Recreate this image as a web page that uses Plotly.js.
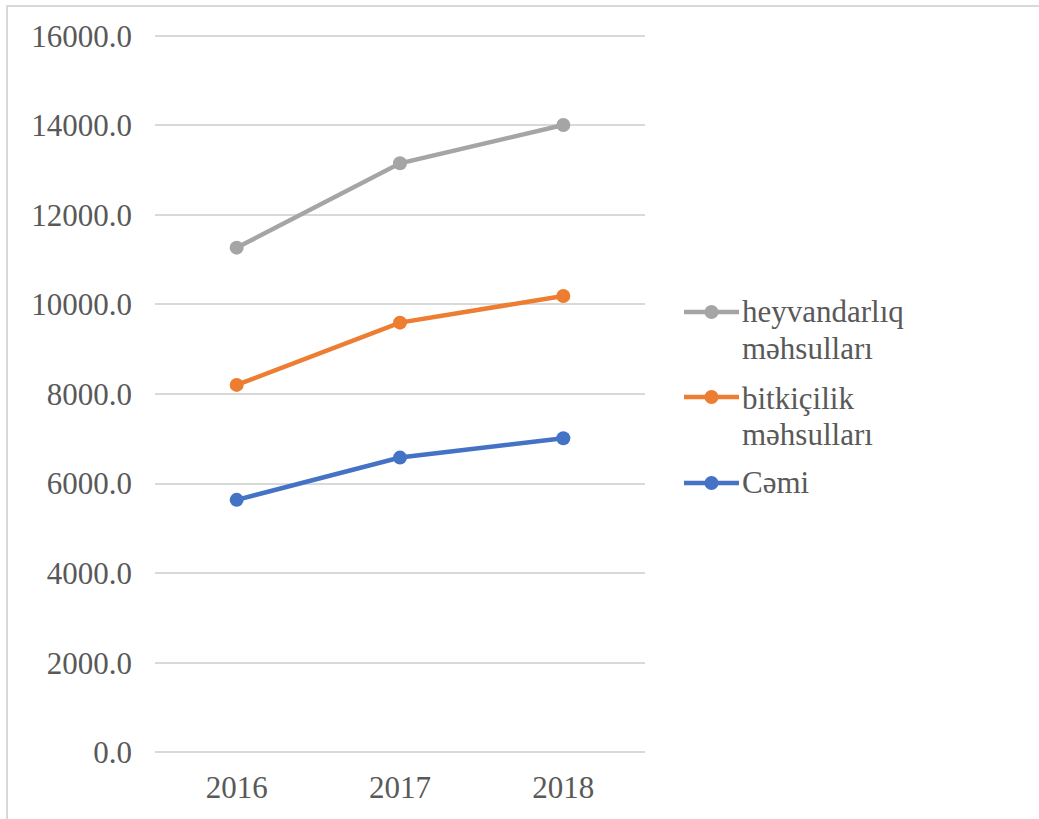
<!DOCTYPE html>
<html>
<head>
<meta charset="utf-8">
<script src="https://cdn.plot.ly/plotly-3.0.1.min.js"></script>
<style>
  html, body { margin: 0; padding: 0; background: #ffffff; }
  #wrap { position: relative; width: 1039px; height: 819px; overflow: hidden; }
  #chart { width: 1039px; height: 819px; }
  #frame { position: absolute; left: 6px; top: 5px; width: 1100px; height: 900px;
           border-left: 2px solid #D9D9D9; border-top: 2px solid #D9D9D9; pointer-events: none; }
</style>
</head>
<body>
<div id="wrap">
  <div id="chart"></div>
  <div id="frame"></div>
</div>
<script>
// ---- data ----
const years = ['2016', '2017', '2018'];
const heyvandarliq = [11268, 13152, 14007];
const bitkicilik = [8203, 9594, 10190];
const cemi = [5636, 6580, 7013];
const seriesNames = ['heyvandarlıq məhsulları', 'bitkiçilik məhsulları', 'Cəmi'];
const legendLines = [['heyvandarlıq', 'məhsulları'], ['bitkiçilik', 'məhsulları'], ['Cəmi']];
const yTicks = [0, 2000, 4000, 6000, 8000, 10000, 12000, 14000, 16000];
const colors = ['#A5A5A5', '#ED7D31', '#4472C4'];

// ---- layout geometry ----
const W = 1039, H = 819;
// small padding beyond 0..16000 so the edge gridlines are drawn
const M = { l: 155, r: 394, t: 34.2, b: 64.7 };
const PW = W - M.l - M.r, PH = H - M.t - M.b;
const px2x = px => (px - M.l) / PW;
const py2y = py => 1 - (py - M.t) / PH;

const FAMILY = 'Liberation Serif, Times New Roman, serif';
const mkFont = () => ({ family: FAMILY, size: 31, color: '#595959' });

const allSeries = [heyvandarliq, bitkicilik, cemi];
const traces = [2, 1, 0].map(i => ({
  type: 'scatter', mode: 'lines+markers',
  x: years, y: allSeries[i], name: seriesNames[i],
  line: { color: colors[i], width: 4.5 },
  marker: { color: colors[i], size: 14 },
  showlegend: false, hoverinfo: 'x+y+name'
}));

// manual legend (Excel style): sample line + marker, wrapped text
const symbolY = [312.3, 397.3, 483.3];
const textCenters = [[311.8, 348.5], [398.8, 435.2], [482.8]];
const shapes = [], annotations = [];
for (let i = 0; i < 3; i++) {
  shapes.push({ type: 'line', xref: 'paper', yref: 'paper',
    x0: px2x(684), x1: px2x(739), y0: py2y(symbolY[i]), y1: py2y(symbolY[i]),
    line: { color: colors[i], width: 4.5 } });
  shapes.push({ type: 'circle', xref: 'paper', yref: 'paper',
    xsizemode: 'pixel', ysizemode: 'pixel',
    xanchor: px2x(711.5), yanchor: py2y(symbolY[i]),
    x0: -7, x1: 7, y0: -7, y1: 7,
    fillcolor: colors[i], line: { color: colors[i], width: 0 } });
  legendLines[i].forEach((t, j) => {
    annotations.push({ xref: 'paper', yref: 'paper', x: px2x(740), y: py2y(textCenters[i][j]),
      xanchor: 'left', yanchor: 'middle', showarrow: false, text: t, font: mkFont() });
  });
}

const layout = {
  width: W, height: H,
  margin: M,
  paper_bgcolor: '#ffffff', plot_bgcolor: '#ffffff',
  font: mkFont(),
  showlegend: false,
  xaxis: {
    type: 'category', range: [-0.5, 2.5], showgrid: false, zeroline: false,
    showline: false, ticks: '', tickfont: mkFont(), ticklabelstandoff: 12, fixedrange: true
  },
  yaxis: {
    range: [-40, 16040], tickvals: yTicks, ticktext: yTicks.map(v => v.toFixed(1)),
    showgrid: true, gridcolor: '#D9D9D9', gridwidth: 2, zeroline: false,
    showline: false, ticks: '', tickfont: mkFont(), ticklabelstandoff: 22, fixedrange: true
  },
  shapes: shapes,
  annotations: annotations
};

Plotly.newPlot('chart', traces, layout, { displayModeBar: false, staticPlot: true });
</script>
</body>
</html>
